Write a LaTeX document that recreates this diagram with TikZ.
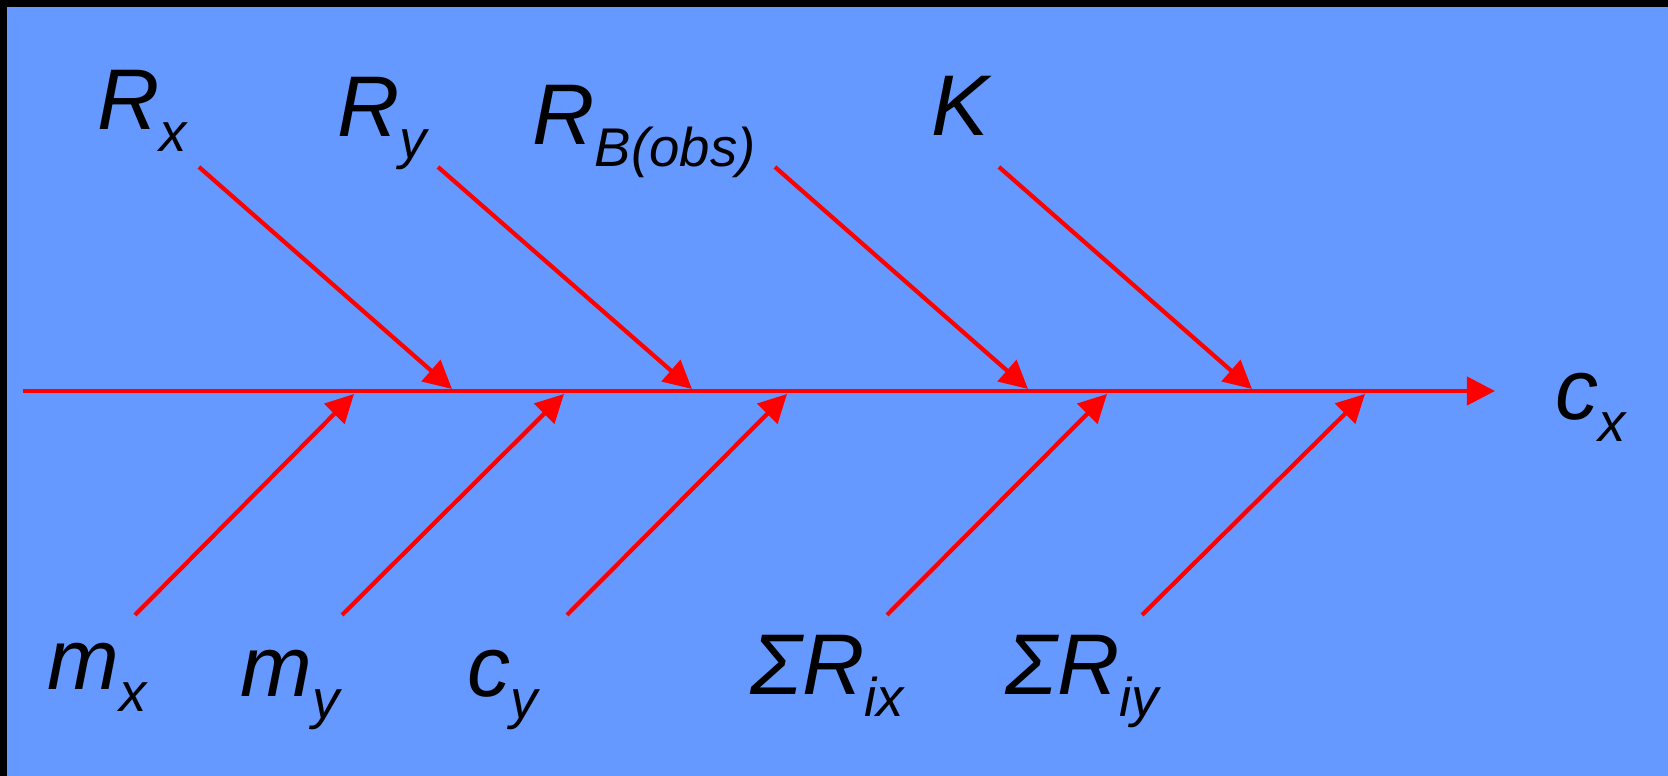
\documentclass[tikz,border=0pt]{standalone}
\usepackage{fontspec}
\setmainfont{Liberation Sans}
\usetikzlibrary{arrows.meta}
\definecolor{mybgblue}{RGB}{102, 153, 255}
\definecolor{myred}{RGB}{255, 0, 0}
\newcommand{\lowsub}[1]{\raisebox{-0.21cm}{\fontsize{15.5}{18}\selectfont #1}}

\begin{document}
\begin{tikzpicture}[x=0.01cm, y=-0.01cm,
    font=\fontsize{24.5}{30}\selectfont\itshape,
    cause/.style={draw=myred, line width=1.2pt, -{Triangle[length=0.28cm, width=0.28cm]}},
    lbl/.style={anchor=base west, inner sep=0pt}]
  % Background
  \fill[black] (0,0) rectangle (1668,776);
  \fill[mybgblue] (7,7) rectangle (1668,776);
  \useasboundingbox (0,0) rectangle (1668,776);
  % Spine
  \coordinate (spinestart) at (23,391);
  \coordinate (spineend) at (1495,391);
  \draw[cause] (spinestart) -- (spineend);
  % Upper causes
  \foreach \name/\sx/\ex in {rx/199/452, ry/438/692, rb/775/1028, k/999/1252} {
    \coordinate (\name-s) at (\sx,167);
    \coordinate (\name-e) at (\ex,389);
    \draw[cause] (\name-s) -- (\name-e);
  }
  % Lower causes
  \foreach \name/\sx/\ex in {mx/135/354, my/342/564, cy/567/787, srx/887/1107, sry/1142/1365} {
    \coordinate (\name-s) at (\sx,615);
    \coordinate (\name-e) at (\ex,394);
    \draw[cause] (\name-s) -- (\name-e);
  }
  % Labels
  \node[lbl] (lrx) at (97,130) {R\lowsub{x}};
  \node[lbl] (lry) at (337,137) {R\lowsub{y}};
  \node[lbl] (lrb) at (532,145) {R\lowsub{B(obs)}};
  \node[lbl] (lk) at (931,136) {K};
  \node[lbl] (lcx) at (1555,420) {c\lowsub{x}};
  \node[lbl] (lmx) at (47,690) {m\lowsub{x}};
  \node[lbl] (lmy) at (240,697) {m\lowsub{y}};
  \node[lbl] (lcy) at (467,697) {c\lowsub{y}};
  \node[lbl] (lsrx) at (750,695) {ΣR\lowsub{ix}};
  \node[lbl] (lsry) at (1005,695) {ΣR\lowsub{iy}};
\end{tikzpicture}
\end{document}
